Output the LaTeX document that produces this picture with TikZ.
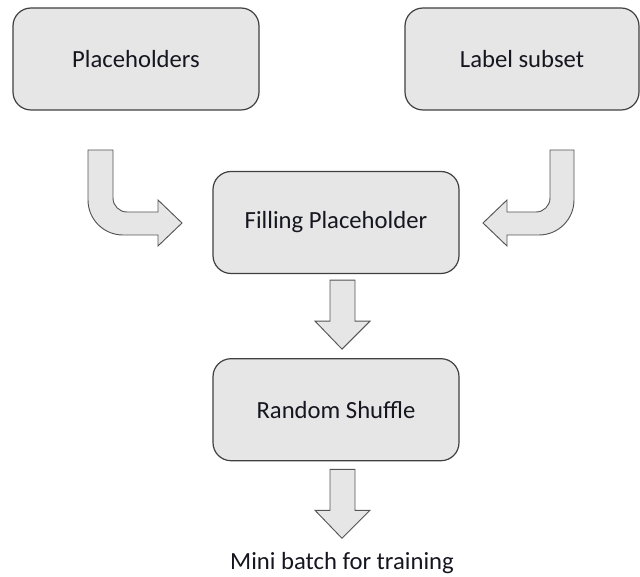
\documentclass[tikz,border=0pt]{standalone}
\usepackage{fontspec}
\setmainfont{Carlito}
\usetikzlibrary{positioning, calc}
\definecolor{boxfill}{RGB}{230,230,230}
\definecolor{boxborder}{RGB}{64,64,64}
\definecolor{arrowborder}{RGB}{85,85,85}
\definecolor{labeltext}{RGB}{22,22,32}
\tikzset{
    block/.style={rectangle, draw=boxborder, fill=boxfill, rounded corners=13.5pt, line width=0.9pt,
        minimum width=184.5pt, minimum height=76.5pt, align=center, text=labeltext,
        font=\fontsize{18.5}{22}\selectfont},
    fatarrow/.style={draw=arrowborder, fill=boxfill, line width=0.7pt, line join=miter},
    caption/.style={text=labeltext, font=\fontsize{18.5}{22}\selectfont}
}
% hollow block arrow pointing down, #1 = top centre of the shaft
\newcommand{\fatdown}[1]{%
    \draw[fatarrow] ($(#1)+(-12,0)$) -- ++(0,41) -- ++(-15,0) -- ++(27,28)
        -- ++(28,-28) -- ++(-15,0) -- ++(0,-41) -- cycle;}

\begin{document}
\begin{tikzpicture}[x=0.75pt, y=-0.75pt]
    \useasboundingbox (0,0) rectangle (640,577);

    \node[block] (holders) at (136,59) {Placeholders};
    \node[block, minimum width=175.5pt] (subset) at (522,59) {Label subset};

    \node[block] (filling) at (336,222.5) {Filling Placeholder};
    \node[block, below=63pt of filling] (shuffle) {Random Shuffle};

    \node[caption] (batch) at (342,563) {Mini batch for training};

    % bent arrows into the filling step
    \draw[fatarrow] (88,150) -- (88,200) arc[start angle=180, end angle=90, radius=35]
        -- (158,235) -- (158,246) -- (182,223) -- (158,200) -- (158,212) -- (127,212)
        arc[start angle=90, end angle=180, radius=14] -- (113,150) -- cycle;
    \draw[fatarrow] (574,150) -- (574,200) arc[start angle=0, end angle=90, radius=35]
        -- (507,235) -- (507,246) -- (483,223) -- (507,200) -- (507,212) -- (536,212)
        arc[start angle=90, end angle=0, radius=14] -- (550,150) -- cycle;

    \coordinate (down1) at ($(filling.south)+(6,6)$);
    \coordinate (down2) at ($(shuffle.south)+(6,8)$);
    \fatdown{down1}
    \fatdown{down2}

\end{tikzpicture}
\end{document}
